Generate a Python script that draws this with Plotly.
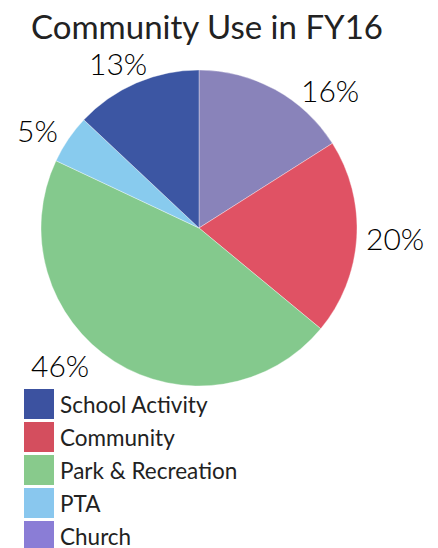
import plotly.graph_objects as go

# Community use shares, FY16 (percent)
labels = ["Church", "Community", "Park & Recreation", "PTA", "School Activity"]
values = [16, 20, 46, 5, 13]
slice_colors = ["#8983BA", "#E05264", "#84C98D", "#88CBEE", "#3C56A3"]

legend_labels = ["School Activity", "Community", "Park & Recreation", "PTA", "Church"]
legend_colors = ["#3C52A0", "#D44E5E", "#88CA8C", "#89C7EE", "#8A7DD6"]

W, H = 438, 548
FONT = "Lato"
TEXT = "#222222"

# Where each slice's percentage label sits (pixels from top-left), same order as labels
label_pos = [(330, 90), (395, 238), (60, 365), (37, 130), (118, 63)]

fig = go.Figure(go.Pie(
    labels=labels,
    values=values,
    sort=False,
    direction="clockwise",
    rotation=0,
    marker=dict(colors=slice_colors, line=dict(color="rgba(255,255,255,0.6)", width=0.6)),
    textinfo="none",
    showlegend=False,
    hoverinfo="label+percent",
    domain=dict(x=[41 / W, 357 / W], y=[(H - 386) / H, (H - 70) / H]),
))

annotations = []
for v, (px, py) in zip(values, label_pos):
    annotations.append(dict(
        text=f"{v}%", xref="paper", yref="paper",
        x=px / W, y=1 - py / H, xanchor="center", yanchor="middle",
        showarrow=False, font=dict(family=FONT, size=30, color="#000000", weight=300),
    ))

# Hand-built legend: colour squares with labels underneath the pie
shapes = []
row_top = 389
row_h = 33
for i, (name, col) in enumerate(zip(legend_labels, legend_colors)):
    top = row_top + i * row_h
    shapes.append(dict(
        type="rect", xref="paper", yref="paper",
        x0=24 / W, x1=54 / W, y0=1 - (top + 30) / H, y1=1 - top / H,
        fillcolor=col, line=dict(width=0),
    ))
    annotations.append(dict(
        text=name, xref="paper", yref="paper",
        x=58 / W, y=1 - (top + 15) / H, xanchor="left", yanchor="middle",
        showarrow=False, font=dict(family=FONT, size=22.5, color=TEXT),
    ))

fig.update_layout(
    width=W, height=H,
    margin=dict(l=0, r=0, t=0, b=0),
    paper_bgcolor="white",
    plot_bgcolor="white",
    title=dict(
        text="Community Use in FY16",
        x=207 / W, y=1 - 27 / H, xanchor="center", yanchor="middle",
        font=dict(family=FONT, size=33, color=TEXT),
    ),
    shapes=shapes,
    annotations=annotations,
)

fig.write_html("out.html")
